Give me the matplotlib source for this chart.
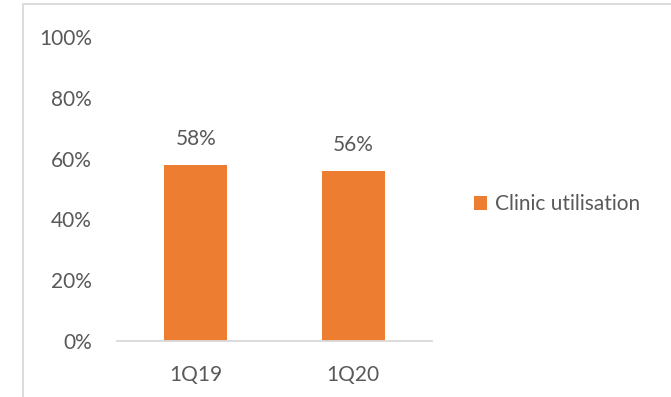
import matplotlib.pyplot as plt
from matplotlib.patches import Rectangle

quarters = ['1Q19', '1Q20']
utilisation = [0.58, 0.56]
bar_labels = ['58%', '56%']
yticks = [0, 0.2, 0.4, 0.6, 0.8, 1.0]
ytick_labels = ['0%', '20%', '40%', '60%', '80%', '100%']

plt.rcParams['font.family'] = ['Lato', 'DejaVu Sans']
text_col = '#595959'
orange = '#ED7D31'
fs = 15

W, H = 671, 397
fig = plt.figure(figsize=(W / 100, H / 100), dpi=100)
fig.patch.set_facecolor('white')

# chart frame (runs off the right/bottom edge)
fig.patches.append(Rectangle((23 / W, -0.1), 1.2, 1 - 4 / H + 0.1,
                             transform=fig.transFigure, fill=False,
                             edgecolor='#d9d9d9', linewidth=1.3))

ax = fig.add_axes([117 / W, 1 - 341 / H, (432 - 117) / W, (341 - 37) / H])
x = range(len(quarters))
bars = ax.bar(x, utilisation, width=0.4, color=orange, label='Clinic utilisation')

for b, lab in zip(bars, bar_labels):
    ax.annotate(lab, (b.get_x() + b.get_width() / 2, b.get_height()),
                xytext=(0, 11), textcoords='offset points',
                ha='center', va='bottom', fontsize=fs, color=text_col)

ax.set_xlim(-0.5, 1.5)
ax.set_ylim(0, 1)
ax.set_xticks(list(x))
ax.set_xticklabels(quarters)
ax.set_yticks(yticks)
ax.set_yticklabels(ytick_labels)
ax.tick_params(axis='both', length=0, labelsize=fs, labelcolor=text_col)
ax.tick_params(axis='x', pad=17)
ax.tick_params(axis='y', pad=18)
for s in ['top', 'right', 'left']:
    ax.spines[s].set_visible(False)
ax.spines['bottom'].set_color('#d9d9d9')
ax.spines['bottom'].set_linewidth(1.3)

ax.legend(loc='center left', bbox_to_anchor=(455 / W, 1 - 204 / H),
          bbox_transform=fig.transFigure, frameon=False, fontsize=fs,
          handlelength=0.65, handleheight=0.65, handletextpad=0.35,
          labelcolor=text_col)

fig.savefig('out.png', dpi=100, facecolor='white')
